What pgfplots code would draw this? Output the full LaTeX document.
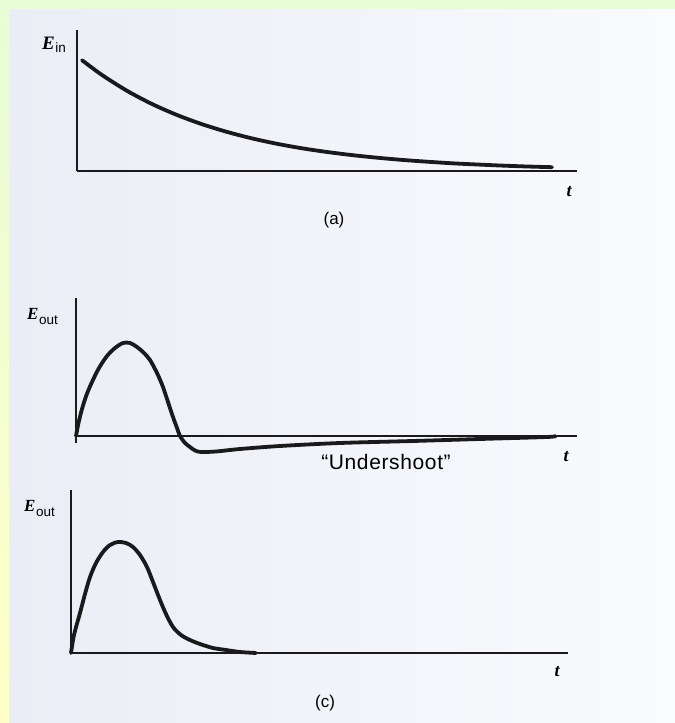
\documentclass[border=0pt]{standalone}
\usepackage{fontspec}
\setmainfont{Liberation Serif}
\setsansfont{Liberation Sans}
\usepackage{pgfplots}
\pgfplotsset{compat=1.18}

\definecolor{frameA}{HTML}{E8FDD6}
\definecolor{frameB}{HTML}{FFFFC8}
\definecolor{paperL}{HTML}{EAEDF5}
\definecolor{paperR}{HTML}{FAFBFE}
\definecolor{ink}{HTML}{1A1A1C}

% shared look of the three sketch axes: bare axis lines, no ticks
\pgfplotsset{
  sketch/.style={
    scale only axis, ticks=none, clip=false, xmin=0,
    axis line style={ink, line width=2.6bp, -},
    every outer x axis line/.append style={-},
    every outer y axis line/.append style={-},
    every inner x axis line/.append style={-},
    every inner y axis line/.append style={-},
    anchor=south west,
  },
  curve/.style={ink, line width=3.8bp, smooth, tension=0.5, line cap=round},
}

\newcommand{\Evar}[1]{{\fontsize{#1}{#1}\selectfont\bfseries\itshape E}}
\newcommand{\tvar}{\fontsize{18bp}{20bp}\selectfont\bfseries\itshape t}
\newcommand{\sub}[1]{{\fontsize{13.5bp}{15bp}\sffamily #1}}

\begin{document}
\begin{tikzpicture}
  % page background
  \fill[frameA] (0bp,0bp) rectangle (675bp,723bp);
  \shade[left color=paperL, right color=paperR] (9bp,0bp) rectangle (675bp,713bp);
  \shade[top color=frameA, bottom color=frameB] (0bp,0bp) rectangle (9bp,723bp);

  % (a) input: decaying exponential
  \begin{axis}[axis lines=left, sketch, at={(77bp,552bp)}, width=500bp, height=141bp,
      xmax=10, ymin=0, ymax=1.41]
    \addplot[curve] coordinates {
      (0.1,1.108) (0.5,0.960) (1.0,0.802) (1.5,0.670) (2.0,0.560)
      (2.5,0.468) (3.0,0.391) (3.5,0.326) (4.0,0.272) (4.5,0.227)
      (5.0,0.190) (5.5,0.159) (6.0,0.133) (6.5,0.111) (7.0,0.093)
      (7.5,0.077) (8.0,0.065) (8.5,0.054) (9.0,0.045) (9.5,0.038)};
  \end{axis}
  \node[anchor=base west, inner sep=0pt] at (42bp,673bp)
    {\Evar{19bp}\kern0.5bp\raisebox{-3bp}{\sub{in}}};
  \node at (569bp,531bp) {\tvar};
  \node at (334bp,503bp) {\fontsize{17bp}{19bp}\sffamily (a)};

  % (b) output with undershoot
  \begin{axis}[axis lines=middle, sketch, at={(76bp,280bp)}, width=501bp, height=145bp,
      xmax=10.02, ymin=-0.07, ymax=1.38]
    \addplot[curve] coordinates {
      (0,0) (0.05,0.13) (0.12,0.27) (0.21,0.41) (0.32,0.54) (0.46,0.68)
      (0.62,0.80) (0.78,0.88) (0.94,0.93) (1.08,0.93) (1.22,0.89)
      (1.36,0.83) (1.48,0.76) (1.62,0.63) (1.74,0.49) (1.84,0.34)
      (1.94,0.19) (2.02,0.08) (2.08,0) (2.18,-0.07) (2.28,-0.11)
      (2.38,-0.145) (2.50,-0.16) (2.80,-0.155) (3.28,-0.13) (4.08,-0.10)
      (5.28,-0.07) (6.74,-0.05) (8.08,-0.03) (9.42,-0.01) (9.58,0)};
  \end{axis}
  \node[anchor=base west, inner sep=0pt] at (27bp,403bp)
    {\Evar{17bp}\kern0.5bp\raisebox{-4.5bp}{\sub{out}}};
  \node at (566bp,266bp) {\tvar};
  \node at (386bp,261bp)
    {\fontsize{21bp}{23bp}\sffamily\addfontfeature{LetterSpace=3}``Undershoot''};

  % (c) output without undershoot
  \begin{axis}[axis lines=left, sketch, at={(71bp,70bp)}, width=497bp, height=163bp,
      xmax=9.94, ymin=0, ymax=1.63]
    \addplot[curve] coordinates {
      (0,0) (0.06,0.18) (0.18,0.40) (0.28,0.59) (0.38,0.76) (0.50,0.90)
      (0.64,1.01) (0.78,1.08) (0.94,1.11) (1.10,1.10) (1.24,1.06)
      (1.38,0.98) (1.52,0.86) (1.64,0.71) (1.78,0.53) (1.90,0.39)
      (2.04,0.26) (2.20,0.18) (2.38,0.13) (2.58,0.09) (2.84,0.05)
      (3.10,0.03) (3.38,0.01) (3.70,0)};
  \end{axis}
  \node[anchor=base west, inner sep=0pt] at (24bp,211bp)
    {\Evar{17bp}\kern0.5bp\raisebox{-4.5bp}{\sub{out}}};
  \node at (557bp,51bp) {\tvar};
  \node at (325bp,20bp) {\fontsize{17bp}{19bp}\sffamily (c)};
\end{tikzpicture}
\end{document}
